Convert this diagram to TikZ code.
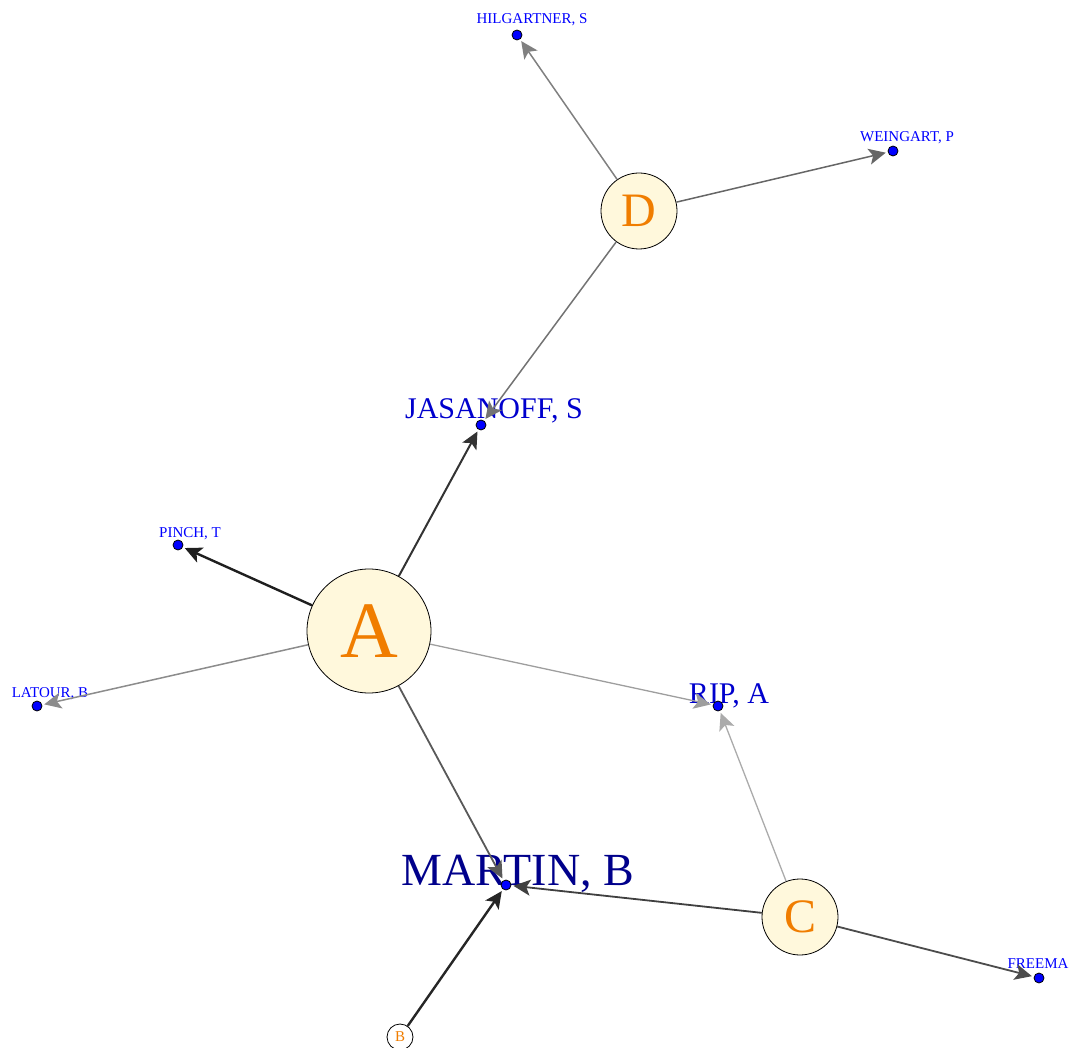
\documentclass[tikz,border=0pt]{standalone}
\usepackage{fontspec}
\setmainfont{Liberation Serif}
\usetikzlibrary{arrows.meta}
\definecolor{hubfill}{RGB}{255,248,220}
\definecolor{hubtext}{RGB}{240,125,0}
\definecolor{tagblue}{RGB}{0,0,255}
\definecolor{midblue}{RGB}{0,0,205}
\definecolor{darkblue}{RGB}{0,0,139}

\begin{document}
\begin{tikzpicture}[x=1pt,y=-1pt,
    hub/.style={circle,draw=black,line width=0.8pt,fill=hubfill,text=hubtext,inner sep=0},
    author/.style={circle,draw=black,line width=0.8pt,fill=blue,inner sep=0,minimum size=10pt},
    tag/.style={anchor=base,inner sep=0,text=tagblue},
    link/.style={-{Stealth[length=17pt,width=16pt,inset=4pt]},shorten >=2pt,line width=1.5pt}]
    \pgfmathsetmacro{\bighub}{124}
    \pgfmathsetmacro{\midhub}{76}
    \pgfmathsetmacro{\smallhub}{26}
    \providecommand{\tagfontsize}{\fontsize{15}{15}\selectfont}
    \providecommand{\namefontsize}{\fontsize{30}{30}\selectfont}
    \providecommand{\bignamefontsize}{\fontsize{46}{46}\selectfont}
    \useasboundingbox (0,0) rectangle (1071,1048);
    % labels
    \node[tag,font=\tagfontsize] (hilT) at (532,24) {HILGARTNER, S};
    \node[tag,font=\tagfontsize] (weiT) at (907,142) {WEINGART, P};
    \node[tag,font=\namefontsize,text=midblue] (jasT) at (494,419) {JASANOFF, S};
    \node[tag,font=\tagfontsize] (pinT) at (190,537) {PINCH, T};
    \node[tag,font=\tagfontsize] (latT) at (50,697) {LATOUR, B};
    \node[tag,font=\namefontsize,text=midblue] (ripT) at (729,703) {RIP, A};
    \node[tag,font=\bignamefontsize,text=darkblue] (marT) at (518,885) {MARTIN, B};
    \node[tag,font=\tagfontsize] (freT) at (1038,968) {FREEMA};
    % clusters
    \node[hub,minimum size=\bighub pt,font=\fontsize{80}{80}\selectfont] (hubA) at (369,631) {A};
    \node[hub,minimum size=\midhub pt,font=\fontsize{48}{48}\selectfont] (hubD) at (639,211) {D};
    \node[hub,minimum size=\midhub pt,font=\fontsize{48}{48}\selectfont] (hubC) at (800,917) {C};
    \node[hub,fill=white,minimum size=\smallhub pt,font=\tagfontsize] (hubB) at (400,1037) {B};
    % authors
    \node[author] (hil) at (517,35) {};
    \node[author] (wei) at (893,151) {};
    \node[author] (jas) at (481,425) {};
    \node[author] (pin) at (178,545) {};
    \node[author] (lat) at (37,706) {};
    \node[author] (rip) at (718,706) {};
    \node[author] (mar) at (506,885) {};
    \node[author] (fre) at (1039,978) {};
    % links
    \draw[link,draw=black!88,line width=2.4pt] (hubA) -- (pin);
    \draw[link,draw=black!80,line width=2pt] (hubA) -- (jas);
    \draw[link,draw=black!45] (hubA) -- (lat);
    \draw[link,draw=black!38,line width=1.3pt] (hubA) -- (rip);
    \draw[link,draw=black!65,line width=1.8pt] (hubA) -- (mar);
    \draw[link,draw=black!55] (hubD) -- (jas);
    \draw[link,draw=black!50] (hubD) -- (hil);
    \draw[link,draw=black!60] (hubD) -- (wei);
    \draw[link,draw=black!33,line width=1.3pt] (hubC) -- (rip);
    \draw[link,draw=black!75,line width=1.8pt] (hubC) -- (mar);
    \draw[link,draw=black!70,line width=1.8pt] (hubC) -- (fre);
    \draw[link,draw=black!85,line width=2.4pt] (hubB) -- (mar);
\end{tikzpicture}
\end{document}
